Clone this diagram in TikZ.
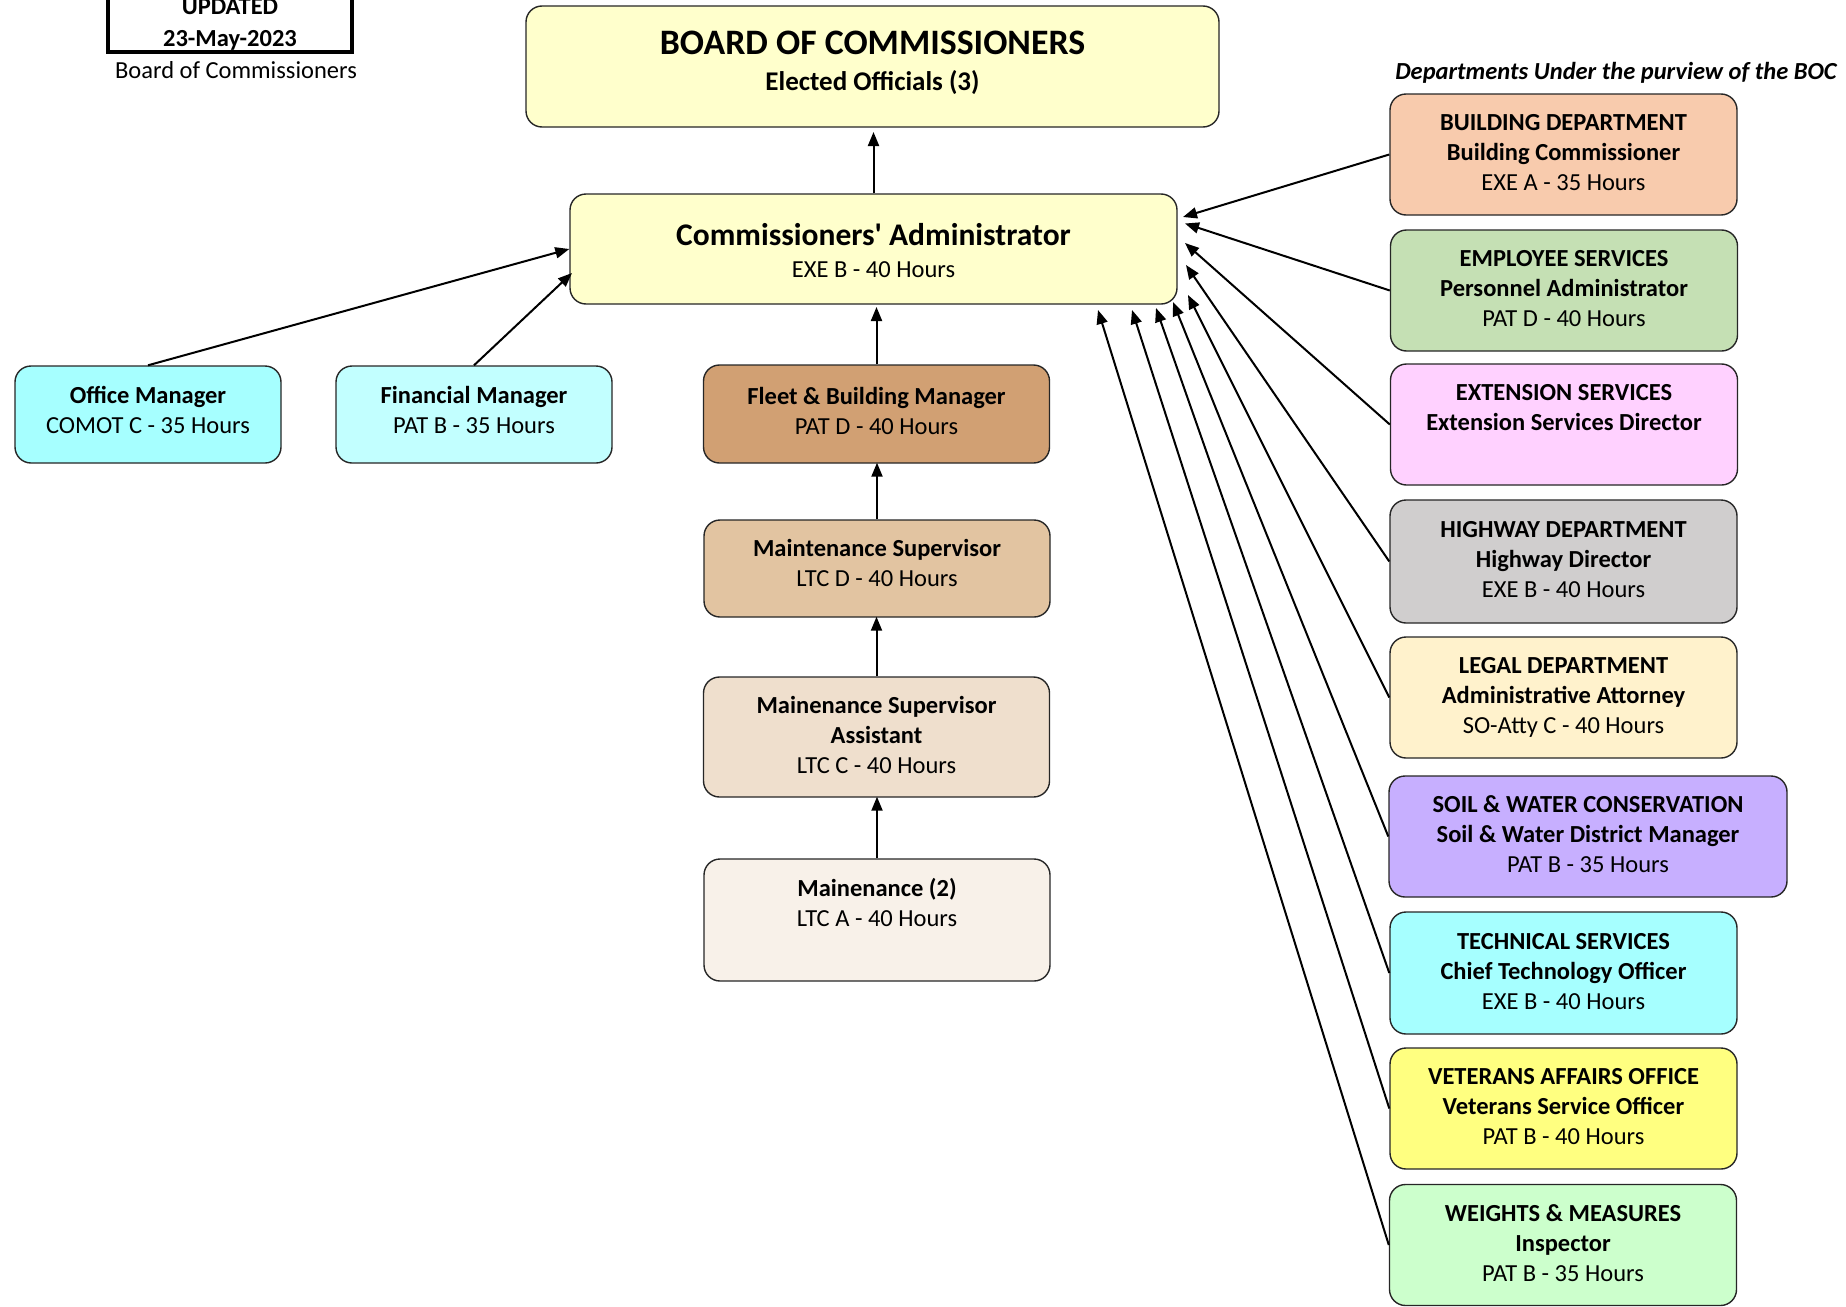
\documentclass[tikz,border=0pt]{standalone}
\usepackage{fontspec}
\setmainfont{Carlito}
\usetikzlibrary{arrows.meta,calc}

% box fills
\definecolor{cBoard}{HTML}{FFFFCC}
\definecolor{cOffice}{HTML}{A6FFFF}
\definecolor{cFinance}{HTML}{C2FFFF}
\definecolor{cFleet}{HTML}{D1A073}
\definecolor{cMaint}{HTML}{E2C4A1}
\definecolor{cAssist}{HTML}{EFDFCD}
\definecolor{cCrew}{HTML}{F8F1E9}
\definecolor{cBuild}{HTML}{F8CBAD}
\definecolor{cEmploy}{HTML}{C5E0B4}
\definecolor{cExtend}{HTML}{FFD1FF}
\definecolor{cHighway}{HTML}{D0CECE}
\definecolor{cLegal}{HTML}{FFF2CC}
\definecolor{cSoil}{HTML}{C7AFFF}
\definecolor{cTech}{HTML}{A6FFFF}
\definecolor{cVets}{HTML}{FFFF80}
\definecolor{cWeights}{HTML}{CCFFCC}

\newcommand{\txtsize}{\fontsize{24.5}{30}\selectfont}
% extra depth below the last line, lifts the text block inside its box
\newcommand{\sinkpad}[1]{\rule[-#1pt]{0pt}{#1pt}}

\begin{document}
\begin{tikzpicture}[x=1pt,y=-1pt,
  box/.style={draw=black!85, line width=1.4pt, rounded corners=16pt,
    align=center, inner sep=0pt, font=\txtsize},
  rbox/.style={box, minimum width=347pt, minimum height=121pt},
  cbox/.style={box, minimum width=346pt},
  conn/.style={line width=2pt, -{Triangle[length=14pt,width=11pt]}},
  lbl/.style={anchor=base, inner sep=0pt}]

\useasboundingbox (0,0) rectangle (1846,1306);

% date stamp
\node[draw, line width=3.5pt, minimum width=244pt, minimum height=94pt,
      inner sep=0pt] (stamp) at (230,5) {};
\node[lbl, font=\txtsize\bfseries] (stamp-a) at (230,14.5) {UPDATED};
\node[lbl, font=\txtsize\bfseries] (stamp-b) at (230,46.5) {23-May-2023};
\node[lbl, font=\txtsize] (stamp-c) at (236,78.5) {Board of Commissioners};

\node[lbl, font=\txtsize\bfseries\itshape] (depts) at (1616,79)
  {Departments Under the purview of the BOC};

% board and administrator
\node[box, fill=cBoard, minimum width=693pt, minimum height=121pt] (boc) at (872.5,66.5) {};
\node[lbl, font=\fontsize{35.8}{40}\selectfont\bfseries] (boc-a) at (872.5,55) {BOARD OF COMMISSIONERS};
\node[lbl, font=\fontsize{27}{32}\selectfont\bfseries] (boc-b) at (872.5,90) {Elected Officials (3)};

\node[box, fill=cBoard, minimum width=607pt, minimum height=110pt] (admin) at (873.5,249) {};
\node[lbl, font=\fontsize{31.5}{36}\selectfont\bfseries] (admin-a) at (873.5,245.5)
  {Commissioners\textquotesingle{} Administrator};
\node[lbl, font=\txtsize] (admin-b) at (873.5,277) {EXE B - 40 Hours};

% staff reporting to the administrator
\node[box, fill=cOffice, minimum width=266pt, minimum height=97pt] (office) at (148,414.5)
  {\strut\textbf{Office Manager}\\\strut COMOT C - 35 Hours\sinkpad{13}};
\node[box, fill=cFinance, minimum width=276pt, minimum height=97pt] (finance) at (474,414.5)
  {\strut\textbf{Financial Manager}\\\strut PAT B - 35 Hours\sinkpad{13}};

\node[cbox, fill=cFleet, minimum height=98pt] (fleet) at (876.5,414)
  {\strut\textbf{Fleet \& Building Manager}\\\strut PAT D - 40 Hours\sinkpad{11}};
\node[cbox, fill=cMaint, minimum height=97pt] (maint) at (877,568.5)
  {\strut\textbf{Maintenance Supervisor}\\\strut LTC D - 40 Hours\sinkpad{15}};
\node[cbox, fill=cAssist, minimum height=120pt] (assist) at (876.5,737)
  {\strut\textbf{Mainenance Supervisor}\\\strut\textbf{Assistant}\\\strut LTC C - 40 Hours\sinkpad{2}};
\node[cbox, fill=cCrew, minimum height=122pt] (crew) at (877,920)
  {\strut\textbf{Mainenance (2)}\\\strut LTC A - 40 Hours\\\strut\sinkpad{2}};

% departments under the board
\node[rbox, fill=cBuild] (build) at (1563.5,154.5)
  {\strut\textbf{BUILDING DEPARTMENT}\\\strut\textbf{Building Commissioner}\\\strut EXE A - 35 Hours};
\node[rbox, fill=cEmploy] (employ) at (1564,290.5)
  {\strut\textbf{EMPLOYEE SERVICES}\\\strut\textbf{Personnel Administrator}\\\strut PAT D - 40 Hours};
\node[rbox, fill=cExtend] (extend) at (1564,424.5)
  {\strut\textbf{EXTENSION SERVICES}\\\strut\textbf{Extension Services Director}\\\strut\sinkpad{-3}};
\node[rbox, fill=cHighway, minimum height=123pt] (highway) at (1563.5,561.5)
  {\strut\textbf{HIGHWAY DEPARTMENT}\\\strut\textbf{Highway Director}\\\strut EXE B - 40 Hours};
\node[rbox, fill=cLegal] (legal) at (1563.5,697.5)
  {\strut\textbf{LEGAL DEPARTMENT}\\\strut\textbf{Administrative Attorney}\\\strut SO-Atty C - 40 Hours};
\node[rbox, fill=cSoil, minimum width=398pt] (soil) at (1588,836.5)
  {\strut\textbf{SOIL \& WATER CONSERVATION}\\\strut\textbf{Soil \& Water District Manager}\\\strut PAT B - 35 Hours};
\node[rbox, fill=cTech, minimum height=122pt] (tech) at (1563.5,973)
  {\strut\textbf{TECHNICAL SERVICES}\\\strut\textbf{Chief Technology Officer}\\\strut EXE B - 40 Hours};
\node[rbox, fill=cVets] (vets) at (1563.5,1108.5)
  {\strut\textbf{VETERANS AFFAIRS OFFICE}\\\strut\textbf{Veterans Service Officer}\\\strut PAT B - 40 Hours};
\node[rbox, fill=cWeights] (weights) at (1563,1245)
  {\strut\textbf{WEIGHTS \& MEASURES}\\\strut\textbf{Inspector}\\\strut PAT B - 35 Hours};

% arrow ends around the administrator box
\coordinate (tip-boc) at (873.5,132);
\coordinate (tip-fin) at (572,273);
\coordinate (tip-fleet) at (876.5,307);
\coordinate (tip-build) at (1183,217);
\coordinate (tip-employ) at (1185,223.5);
\coordinate (tip-extend) at (1185,243);
\coordinate (tip-highway) at (1186,265);
\coordinate (tip-legal) at (1188,295);
\coordinate (tip-soil) at (1173,302);
\coordinate (tip-tech) at (1156,308);
\coordinate (tip-vets) at (1132,310);
\coordinate (tip-weights) at (1098,310);

\draw[conn] (admin.north) -- (tip-boc);
\draw[conn] (office.north) -- (admin.west);
\draw[conn] (finance.north) -- (tip-fin);
\draw[conn] (fleet.north) -- (tip-fleet);
\draw[conn, shorten >=-1pt] (maint.north) -- (maint.north |- fleet.south);
\draw[conn, shorten >=-1pt] (assist.north) -- (assist.north |- maint.south);
\draw[conn, shorten >=-1pt] (crew.north) -- (crew.north |- assist.south);

\draw[conn] (build.west) -- (tip-build);
\draw[conn] (employ.west) -- (tip-employ);
\draw[conn] (extend.west) -- (tip-extend);
\draw[conn] (highway.west) -- (tip-highway);
\draw[conn] (legal.west) -- (tip-legal);
\draw[conn] (soil.west) -- (tip-soil);
\draw[conn] (tech.west) -- (tip-tech);
\draw[conn] (vets.west) -- (tip-vets);
\draw[conn] (weights.west) -- (tip-weights);
\end{tikzpicture}
\end{document}
